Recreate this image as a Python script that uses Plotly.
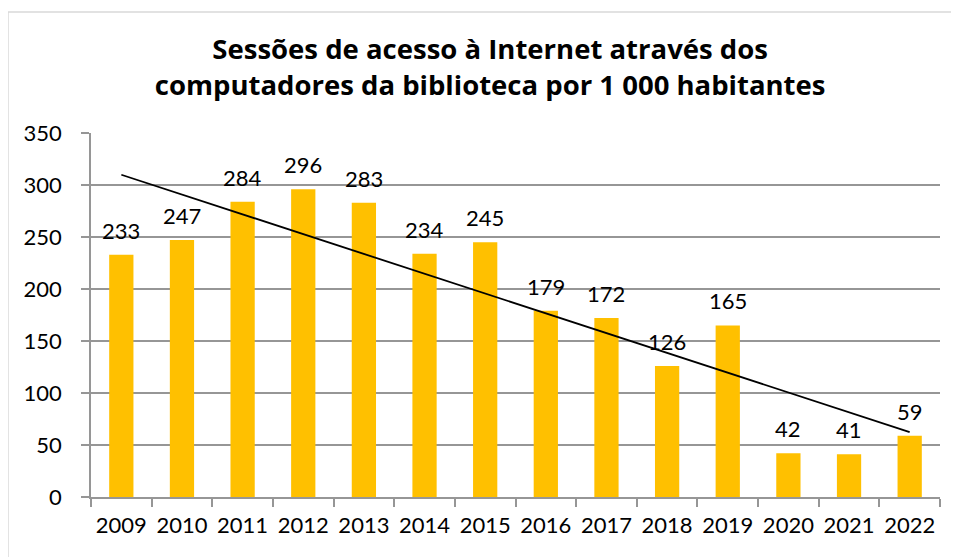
import numpy as np
import plotly.graph_objects as go

years = ["2009", "2010", "2011", "2012", "2013", "2014", "2015",
         "2016", "2017", "2018", "2019", "2020", "2021", "2022"]
sessions = [233, 247, 284, 296, 283, 234, 245, 179, 172, 126, 165, 42, 41, 59]
y_ticks = [0, 50, 100, 150, 200, 250, 300, 350]
title_text = ("Sessões de acesso à Internet através dos<br>"
              "computadores da biblioteca por 1 000 habitantes")

idx = np.arange(len(sessions))
slope, intercept = np.polyfit(idx, sessions, 1)
trend = slope * idx + intercept

label_font = dict(family="Lato, Open Sans, sans-serif", size=22, color="#000000")

fig = go.Figure()
fig.add_trace(go.Bar(
    x=years, y=sessions, width=0.4,
    marker=dict(color="#FFC000", line=dict(width=0)),
    showlegend=False,
))
fig.add_trace(go.Scatter(
    x=[years[0], years[-1]], y=[trend[0], trend[-1]], mode="lines",
    line=dict(color="#000000", width=1.8), showlegend=False, hoverinfo="skip",
))

annotations = [dict(x=int(i), y=v, text=str(v), showarrow=False, xref="x", yref="y",
                    yanchor="bottom", yshift=9, font=label_font)
               for i, v in zip(idx, sessions)]

fig.update_layout(
    width=951, height=549,
    margin=dict(l=83, r=19, t=125, b=60),
    paper_bgcolor="white", plot_bgcolor="white",
    title=dict(text=title_text, x=0.507, xanchor="center", xref="container",
               y=0.9075, yanchor="middle", yref="container",
               font=dict(family="Open Sans, DejaVu Sans, sans-serif", size=27.5,
                         color="#000000", weight="bold")),
    xaxis=dict(type="category", categoryarray=years, categoryorder="array",
               range=[-0.5, len(years) - 0.5],
               showgrid=False, showline=True,
               linecolor="#969696", linewidth=1.5,
               ticks="outside", tickson="boundaries", ticklen=8,
               tickcolor="#969696", tickwidth=1.5, ticklabelstandoff=8,
               tickangle=0, tickfont=label_font),
    yaxis=dict(range=[0, 350], tickvals=y_ticks, showgrid=True,
               gridcolor="#969696", gridwidth=1.5,
               showline=True, linecolor="#969696", linewidth=1.5,
               ticks="outside", ticklen=8, tickcolor="#969696", tickwidth=1.5,
               zeroline=False, ticklabelstandoff=15,
               tickfont=label_font),
    annotations=annotations,
    shapes=[dict(type="rect", xref="paper", yref="paper",
                 x0=-0.0978, x1=1.2, y0=-0.3, y1=1.3324,
                 line=dict(color="#d9d9d9", width=1.5), fillcolor="rgba(0,0,0,0)",
                 layer="below")],
)

fig.write_html("out.html")
